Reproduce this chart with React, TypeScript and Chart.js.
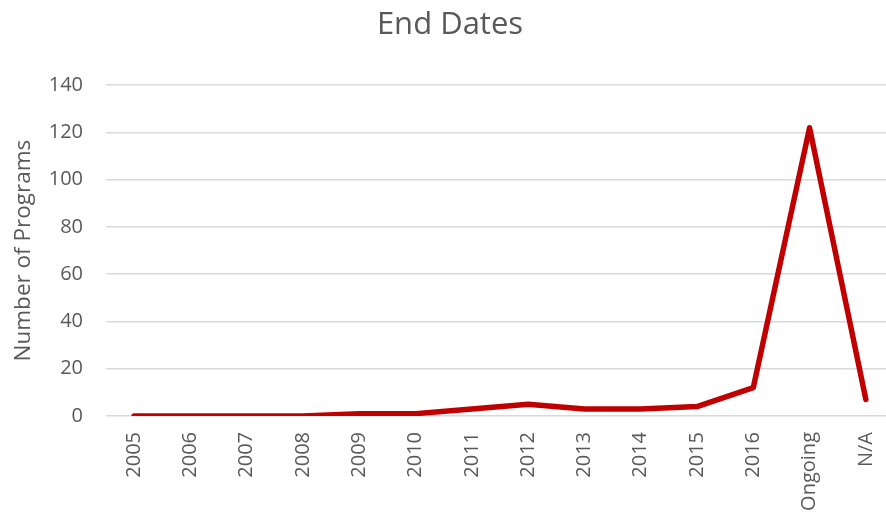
import React, { useEffect, useRef } from "react";
import { Chart, registerables } from "chart.js";

Chart.register(...registerables);

const categories = ["2005", "2006", "2007", "2008", "2009", "2010", "2011", "2012", "2013", "2014", "2015", "2016", "Ongoing", "N/A"];
const programCounts = [0, 0, 0, 0, 1, 1, 3, 5, 3, 3, 4, 12, 122, 7];
const chartTitle = "End Dates";
const yAxisTitle = "Number of Programs";

const FONT = "'Open Sans', 'DejaVu Sans', sans-serif";
const GRAY = "#595959";

export default function App() {
  const canvasRef = useRef<HTMLCanvasElement | null>(null);

  useEffect(() => {
    if (!canvasRef.current) return;
    const chart = new Chart(canvasRef.current, {
      type: "line",
      data: {
        labels: categories,
        datasets: [
          {
            label: yAxisTitle,
            data: programCounts,
            borderColor: "#C00000",
            backgroundColor: "#C00000",
            borderWidth: 5.5,
            pointRadius: 0,
            tension: 0,
            borderCapStyle: "round",
            borderJoinStyle: "round",
          },
        ],
      },
      options: {
        animation: false,
        responsive: false,
        maintainAspectRatio: false,
        layout: { padding: { left: 6, right: 2, top: 0, bottom: 2 } },
        plugins: {
          legend: { display: false },
          tooltip: { enabled: false },
          title: {
            display: true,
            text: chartTitle,
            color: GRAY,
            font: { family: FONT, size: 31, weight: "normal" },
            padding: { top: 7, bottom: 41 },
          },
        },
        scales: {
          x: {
            type: "category",
            offset: true,
            grid: { display: false, drawTicks: false },
            border: { display: false },
            ticks: {
              color: GRAY,
              font: { family: FONT, size: 20 },
              minRotation: 90,
              maxRotation: 90,
              padding: 16,
              autoSkip: false,
            },
            afterFit: (scale: any) => {
              scale.paddingLeft = 0;
              scale.paddingRight = 0;
              scale.height = 96;
            },
          },
          y: {
            min: 0,
            max: 140,
            grid: { color: "#d9d9d9", lineWidth: 1.5, drawTicks: false },
            border: { display: false },
            ticks: {
              stepSize: 20,
              color: GRAY,
              font: { family: FONT, size: 20 },
              padding: 23,
            },
            title: {
              display: true,
              text: yAxisTitle,
              color: GRAY,
              font: { family: FONT, size: 22.5 },
              padding: { top: 4, bottom: 12 },
            },
            afterFit: (scale: any) => {
              scale.width = 100;
              scale.paddingTop = 0;
              scale.paddingBottom = 0;
            },
          },
        },
      },
    });
    return () => chart.destroy();
  }, []);

  return (
    <div style={{ position: "fixed", left: 0, top: 0, width: 886, height: 514, overflow: "hidden", background: "#fff" }}>
      <canvas ref={canvasRef} width={896} height={514} style={{ width: 896, height: 514, display: "block" }} />
    </div>
  );
}
